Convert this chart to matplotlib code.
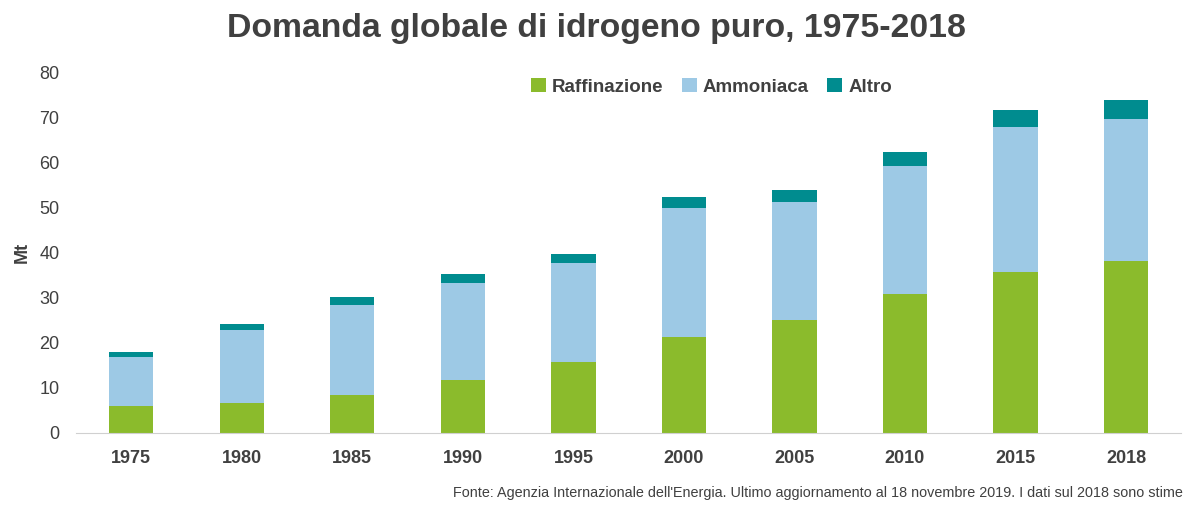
import matplotlib.pyplot as plt
import numpy as np

plt.rcParams['font.family'] = ['Liberation Sans', 'DejaVu Sans']

# dati (Mt)
anni = ['1975', '1980', '1985', '1990', '1995', '2000', '2005', '2010', '2015', '2018']
raffinazione = [6.0, 6.7, 8.5, 11.7, 15.7, 21.3, 25.0, 30.8, 35.7, 38.1]
ammoniaca = [10.9, 16.1, 19.9, 21.5, 22.0, 28.6, 26.2, 28.4, 32.1, 31.5]
altro = [1.05, 1.4, 1.7, 2.0, 2.0, 2.4, 2.7, 3.1, 3.8, 4.2]

c_raff = '#8BBB2C'
c_amm = '#9DC9E5'
c_alt = '#008C8F'
txt = '#404040'

fig = plt.figure(figsize=(11.92, 5.05), dpi=100)
ax = fig.add_axes([0.0638, 0.1426, 0.9272, 0.7148])

x = np.arange(len(anni))
w = 0.4
raff = np.array(raffinazione)
amm = np.array(ammoniaca)
alt = np.array(altro)

ax.bar(x, raff, w, color=c_raff, label='Raffinazione')
ax.bar(x, amm, w, bottom=raff, color=c_amm, label='Ammoniaca')
ax.bar(x, alt, w, bottom=raff + amm, color=c_alt, label='Altro')

ax.set_xlim(-0.5, len(anni) - 0.5)
ax.set_ylim(0, 80)
ax.set_yticks(range(0, 81, 10))
ax.set_xticks(x)
ax.set_xticklabels(anni, fontsize=13, fontweight='bold', color=txt)
ax.tick_params(axis='y', labelsize=13, colors=txt, length=0, pad=12)
ax.tick_params(axis='x', length=0, pad=12)

for s in ['top', 'right', 'left']:
    ax.spines[s].set_visible(False)
ax.spines['bottom'].set_color('#d0d0d0')

ax.set_ylabel('Mt', fontsize=13, fontweight='bold', color=txt, labelpad=6)

fig.suptitle('Domanda globale di idrogeno puro, 1975-2018', fontsize=24.3,
             fontweight='bold', color=txt, y=0.975)

leg = ax.legend(loc='upper center', bbox_to_anchor=(0.575, 1.03), ncol=3, frameon=False,
                handlelength=0.8, handleheight=0.8, handletextpad=0.3, columnspacing=1.0,
                prop={'size': 13.5, 'weight': 'bold'})
for t in leg.get_texts():
    t.set_color(txt)

fig.text(0.992, 0.01, "Fonte: Agenzia Internazionale dell'Energia. Ultimo aggiornamento al 18 novembre 2019. I dati sul 2018 sono stime",
         ha='right', va='bottom', fontsize=10.4, color=txt)

fig.savefig('out.png', dpi=100)
